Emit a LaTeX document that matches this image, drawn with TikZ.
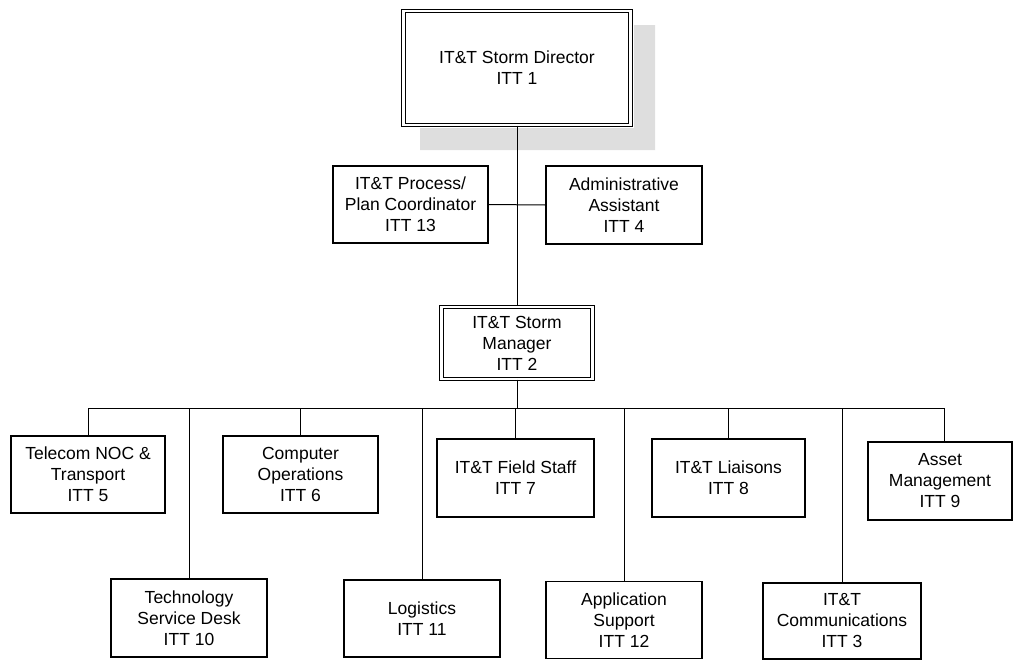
\documentclass[tikz,border=0pt]{standalone}
\usepackage{fontspec}
\setmainfont{Liberation Sans}
\begin{document}
\begin{tikzpicture}[x=1pt,y=-1pt,
  box/.style={draw=black, line width=1.3pt, fill=white, align=center, inner sep=2pt,
    font=\fontsize{17.5}{21}\selectfont},
  dbox/.style={box, line width=1.1pt, double=white, double distance=2.2pt},
  conn/.style={draw=black, line width=1pt},
  shadowfill/.style={fill=black!13, draw=none}]
\useasboundingbox (0,0) rectangle (1014,659);
% shadow of director box
\path[shadowfill] (634,25) -- (655,25) -- (655,150) -- (420,150) -- (420,128) -- (634,128) -- cycle;
% nodes
\node[dbox, minimum width=227pt, minimum height=114pt] (dir) at (517,68) {IT\&T Storm Director\\ITT 1};
\node[box, minimum width=155pt, minimum height=77pt] (coord) at (410.5,204.5) {IT\&T Process/\\Plan Coordinator\\ITT 13};
\node[box, minimum width=156pt, minimum height=78pt] (admin) at (624,205) {Administrative\\Assistant\\ITT 4};
\node[dbox, minimum width=151pt, minimum height=72pt] (mgr) at (517,343) {IT\&T Storm\\Manager\\ITT 2};
\node[box, minimum width=154pt, minimum height=77pt] (n5) at (88,474.5) {Telecom NOC \&\\Transport\\ITT 5};
\node[box, minimum width=155pt, minimum height=77pt] (n6) at (300.5,474.5) {Computer\\Operations\\ITT 6};
\node[box, minimum width=157pt, minimum height=78pt] (n7) at (515.5,478) {IT\&T Field Staff\\ITT 7};
\node[box, minimum width=153pt, minimum height=78pt] (n8) at (728.5,478) {IT\&T Liaisons\\ITT 8};
\node[box, minimum width=144pt, minimum height=78pt] (n9) at (940,481) {Asset\\Management\\ITT 9};
\node[box, minimum width=156pt, minimum height=78pt] (n10) at (189,618) {Technology\\Service Desk\\ITT 10};
\node[box, minimum width=156pt, minimum height=77pt] (n11) at (422,618.5) {Logistics\\ITT 11};
\node[box, minimum width=156pt, minimum height=77pt] (n12) at (624,620) {Application\\Support\\ITT 12};
\node[box, minimum width=158pt, minimum height=76pt] (n3) at (842,621) {IT\&T\\Communications\\ITT 3};
% connectors
\draw[conn] (dir.south) -- (mgr.north);
\draw[conn] (coord.east) -- (admin.west);
\coordinate (bus) at (517,408);
\draw[conn] (mgr.south) -- (bus);
\draw[conn] (bus) -| (n5.north);
\draw[conn] (bus) -| (n10.north);
\draw[conn] (bus) -| (n6.north);
\draw[conn] (bus) -| (n11.north);
\draw[conn] (bus) -| (n7.north);
\draw[conn] (bus) -| (n12.north);
\draw[conn] (bus) -| (n8.north);
\draw[conn] (bus) -| (n3.north);
\draw[conn] (bus) -| ([xshift=4pt]n9.north);
\end{tikzpicture}
\end{document}
